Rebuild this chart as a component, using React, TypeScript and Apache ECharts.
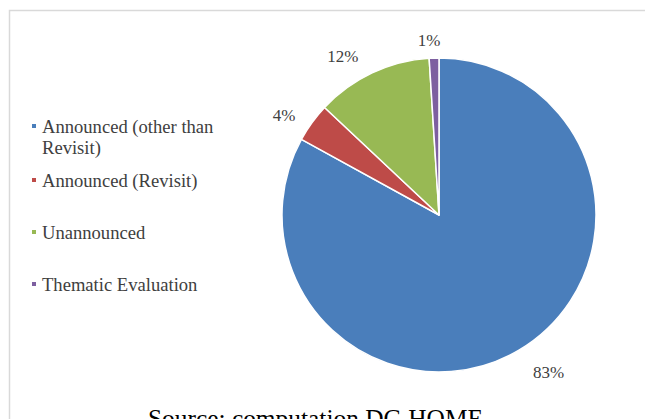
import React, { useEffect, useRef } from "react";
import * as echarts from "echarts";

const categories = [
  "Announced (other than Revisit)",
  "Announced (Revisit)",
  "Unannounced",
  "Thematic Evaluation",
];
const legendLabels = [
  "\nAnnounced (other than\nRevisit)",
  "Announced (Revisit)",
  "Unannounced",
  "Thematic Evaluation",
];
const shares = [83, 4, 12, 1];
const colors = ["#4a7ebb", "#be4b48", "#98b954", "#7d5fa0"];
const sourceText = "Source: computation DG HOME";

// label nudges (style only)
const labelNudges = [
  [5, 7],
  [-2, 3],
  [-6, 0],
  [7, 0],
];

const serif = "'Liberation Serif', 'Times New Roman', serif";

export default function App() {
  const ref = useRef<HTMLDivElement>(null);
  useEffect(() => {
    if (!ref.current) return;
    const chart = echarts.init(ref.current, null, { renderer: "svg" });
    const legendTops = [94.5, 169.5, 221.5, 273.5];
    const legends = categories.map((c, i) => ({
      orient: "vertical",
      left: 30,
      top: legendTops[i],
      padding: 0,
      itemWidth: 6,
      itemHeight: 6,
      icon: "rect",
      selectedMode: false,
      data: [c],
      formatter: () => legendLabels[i],
      textStyle: {
        fontFamily: serif,
        fontSize: 18.6,
        lineHeight: 21,
        color: "#404040",
      },
    }));
    chart.setOption({
      animation: false,
      backgroundColor: "#ffffff",
      color: colors,
      legend: legends,
      graphic: [
        {
          type: "polyline",
          silent: true,
          shape: { points: [[9.5, 700], [9.5, 10.5], [700, 10.5]] },
          style: { stroke: "#d9d9d9", fill: null, lineWidth: 1.5 },
        },
        {
          type: "text",
          left: 148,
          top: 405,
          style: {
            text: sourceText,
            font: `25.4px ${serif}`,
            fill: "#000000",
          },
        },
      ],
      series: [
        {
          type: "pie",
          center: [439, 215],
          radius: 157,
          startAngle: 90,
          clockwise: true,
          avoidLabelOverlap: false,
          itemStyle: { borderColor: "#ffffff", borderWidth: 1.5 },
          label: {
            show: true,
            position: "outside",
            formatter: (p: any) => `${Math.round(p.percent)}%`,
            fontFamily: serif,
            fontSize: 17,
            color: "#404040",
            distanceToLabelLine: 0,
          },
          labelLine: { show: false, length: 18, length2: 0 },
          emphasis: { disabled: true },
          data: categories.map((c, i) => ({
            name: c,
            value: shares[i],
            label: { offset: labelNudges[i] },
          })),
        },
      ],
    });
    return () => chart.dispose();
  }, []);
  return (
    <div
      ref={ref}
      style={{ position: "fixed", left: 0, top: 0, width: 645, height: 419 }}
    />
  );
}
